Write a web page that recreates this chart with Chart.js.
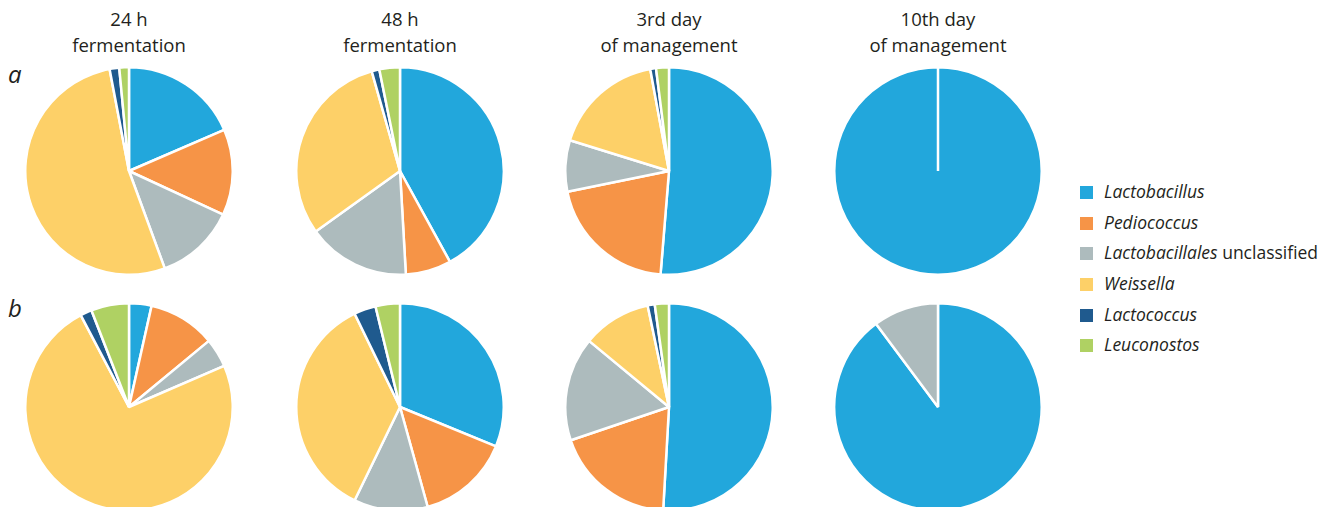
<!DOCTYPE html>
<html lang="en">
<head>
  <meta charset="UTF-8">
  <title>Microbial composition</title>
  <style>
    html, body { margin: 0; padding: 0; background: #fff; }
    body { width: 1326px; height: 507px; overflow: hidden; position: relative;
           font-family: "Open Sans", "Noto Sans", sans-serif; color: #231f20; }
    .title { position: absolute; top: 6px; width: 240px; text-align: center;
             font-size: 18.5px; line-height: 26px; }
    .row { position: absolute; font-size: 24px; font-style: italic; }
    .pie { position: absolute; }
    .legend { position: absolute; left: 1080px; top: 176px; font-size: 17.5px; }
    .legend div { height: 30.7px; line-height: 30.7px; white-space: nowrap; }
    .legend span.sw { display: inline-block; width: 13px; height: 13px;
                      vertical-align: -1px; margin-right: 11px; }
  </style>
</head>
<body>
  <div id="titles"></div>
  <div class="row" style="left:8px; top:57px;">a</div>
  <div class="row" style="left:8px; top:291px;">b</div>
  <div id="pies"></div>
  <div class="legend" id="legend"></div>

  <script src="https://cdn.jsdelivr.net/npm/chart.js"></script>
  <script>
    // categories (legend order = slice order, clockwise from 12 o'clock)
    const genera = ['Lactobacillus', 'Pediococcus', 'Lactobacillales unclassified', 'Weissella', 'Lactococcus', 'Leuconostos'];
    const colors = ['#22a7dc', '#f69447', '#adbbbd', '#fdd068', '#1f5a8e', '#afd163'];
    const stageTitles = [['24 h', 'fermentation'], ['48 h', 'fermentation'], ['3rd day', 'of management'], ['10th day', 'of management']];

    // percent shares, row a
    const a24h  = [18.5, 13.4, 12.5, 52.6, 1.5, 1.5];
    const a48h  = [42.0, 7.1, 16.0, 30.5, 1.2, 3.2];
    const a3day = [51.3, 20.5, 8.0, 17.3, 0.9, 2.0];
    const a10day = [100, 0, 0, 0, 0, 0];
    // percent shares, row b
    const b24h  = [3.5, 10.5, 4.5, 73.8, 1.8, 5.9];
    const b48h  = [31.2, 14.5, 11.5, 35.6, 3.4, 3.8];
    const b3day = [50.9, 18.9, 16.2, 10.7, 1.1, 2.2];
    const b10day = [89.8, 0, 10.2, 0, 0, 0];

    const rows = [[a24h, a48h, a3day, a10day], [b24h, b48h, b3day, b10day]];
    const colX = [129, 400, 669, 938];
    const rowY = [171, 407];
    const size = 210;

    // column titles
    const titles = document.getElementById('titles');
    stageTitles.forEach((t, i) => {
      const d = document.createElement('div');
      d.className = 'title';
      d.style.left = (colX[i] - 120) + 'px';
      d.innerHTML = t[0] + '<br>' + t[1];
      titles.appendChild(d);
    });

    // legend
    const legend = document.getElementById('legend');
    genera.forEach((g, i) => {
      const d = document.createElement('div');
      let label = '<i>' + g + '</i>';
      if (g.endsWith(' unclassified')) label = '<i>' + g.replace(' unclassified', '') + '</i> unclassified';
      d.innerHTML = '<span class="sw" style="background:' + colors[i] + '"></span>' + label;
      legend.appendChild(d);
    });

    // pies
    const pies = document.getElementById('pies');
    rows.forEach((row, r) => {
      row.forEach((values, c) => {
        const cv = document.createElement('canvas');
        cv.className = 'pie';
        cv.width = size; cv.height = size;
        cv.style.left = (colX[c] - size / 2) + 'px';
        cv.style.top = (rowY[r] - size / 2) + 'px';
        pies.appendChild(cv);
        new Chart(cv, {
          type: 'pie',
          data: {
            labels: genera,
            datasets: [{
              data: values,
              backgroundColor: colors,
              borderColor: '#ffffff',
              borderWidth: 2.5
            }]
          },
          options: {
            responsive: false,
            animation: false,
            plugins: { legend: { display: false }, tooltip: { enabled: false } }
          }
        });
      });
    });
  </script>
</body>
</html>
